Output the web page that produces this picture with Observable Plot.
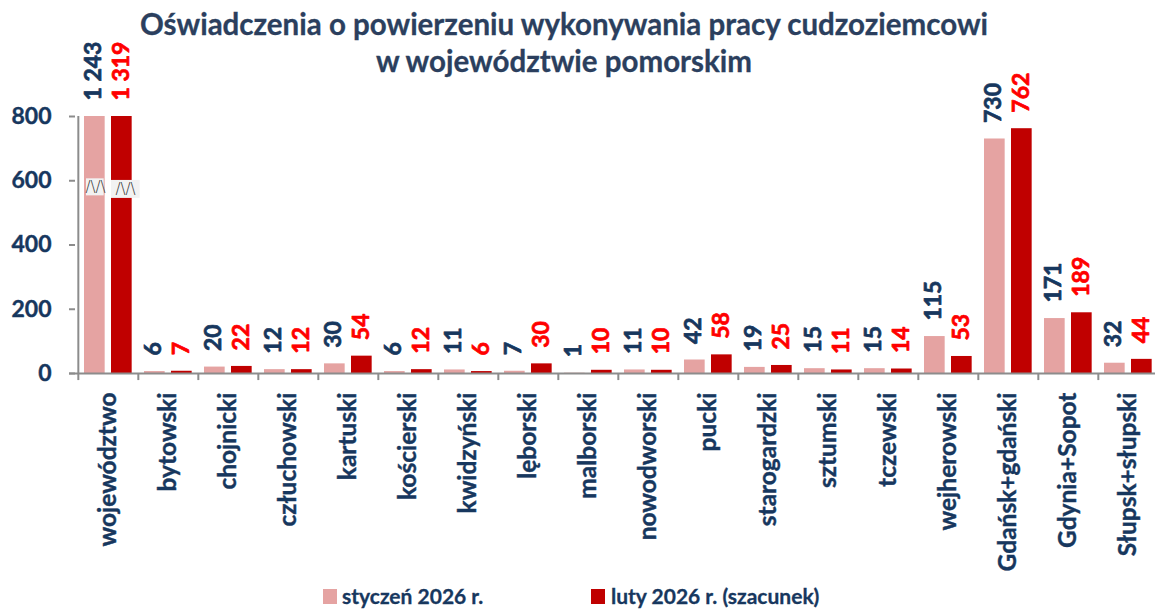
<!DOCTYPE html>
<html><head><meta charset="utf-8">
<script src="https://cdn.jsdelivr.net/npm/d3@7"></script>
<script src="https://cdn.jsdelivr.net/npm/@observablehq/plot@0.6"></script>
<style>
body{margin:0;background:#fff;font-family:Lato,"Open Sans",sans-serif;}
#wrap{position:relative;width:1155px;height:610px;overflow:hidden;}
#title{position:absolute;left:0;top:5px;width:1128px;text-align:center;color:#2B3F5E;font-weight:bold;font-size:29.5px;line-height:37px;z-index:2;-webkit-text-stroke:0.3px #2B3F5E;}
.leg{position:absolute;top:584px;height:24px;line-height:24px;display:flex;align-items:center;color:#17375E;font-weight:bold;font-size:21px;-webkit-text-stroke:0.3px #17375E;}
.sw{width:14px;height:15px;margin-right:5px;}
svg g[aria-label="y-axis tick label"] text{fill:#17375E;font-weight:bold;font-size:23px;stroke:#17375E;stroke-width:0.4px;}
svg g[aria-label="y-axis tick"]{stroke:#8C8C8C;stroke-width:2;}
</style></head>
<body>
<div id="wrap">
<div id="title">Oświadczenia o powierzeniu wykonywania pracy cudzoziemcowi<br>w województwie pomorskim</div>
<div id="chart"></div>
<div class="leg" style="left:323px"><div class="sw" style="background:#E5A3A2"></div>styczeń 2026 r.</div>
<div class="leg" style="left:591px"><div class="sw" style="background:#C00000;margin-right:6px"></div>luty 2026 r. (szacunek)</div>
</div>
<script>
const categories = ["województwo","bytowski","chojnicki","człuchowski","kartuski","kościerski","kwidzyński","lęborski","malborski","nowodworski","pucki","starogardzki","sztumski","tczewski","wejherowski","Gdańsk+gdański","Gdynia+Sopot","Słupsk+słupski"];
const jan = [1243,6,20,12,30,6,11,7,1,11,42,19,15,15,115,730,171,32];
const feb = [1319,7,22,12,54,12,6,30,10,10,58,25,11,14,53,762,189,44];
const yTicks = [0,200,400,600,800];
const seriesNames = ["styczeń 2026 r.","luty 2026 r. (szacunek)"];

const W = 1155, H = 610, x0 = 75, x1 = 1161, yZero = 373, yTop = 116;
const band = (x1 - x0) / categories.length;
const cap = 800;
const pink = "#E5A3A2", red = "#C00000", navy = "#17375E", labRed = "#FF0000", grey = "#8C8C8C";
const data = categories.map((c, i) => ({c, jan: jan[i], feb: feb[i]}));
const fmt = v => d3.format(",")(v).replace(/,/g, " ");
const font = "Lato, 'Open Sans', sans-serif";
const brokenCat = data.filter(d => d.jan > cap || d.feb > cap);

const chart = Plot.plot({
  width: W, height: H,
  marginTop: yTop, marginBottom: H - yZero, marginLeft: x0, marginRight: 0,
  style: {fontFamily: font, overflow: "visible", background: "transparent"},
  x: {domain: categories, range: [x0, x1], padding: 0, axis: null},
  y: {domain: [0, cap], ticks: yTicks, tickSize: 6, tickPadding: 18, label: null, tickFormat: d => d},
  marks: [
    Plot.barY(data, {x: "c", y: d => Math.min(d.jan, cap), fill: pink, insetLeft: 6, insetRight: band - 27}),
    Plot.barY(data, {x: "c", y: d => Math.min(d.feb, cap), fill: red, insetLeft: 33, insetRight: band - 54}),
    // axis break markers
    Plot.barY(brokenCat, {x: "c", y1: 553, y2: 606, fill: "#F2F2F2", insetLeft: 8, insetRight: band - 26}),
    Plot.barY(brokenCat, {x: "c", y1: 545, y2: 601, fill: "#F2F2F2", insetLeft: 33, insetRight: band - 62}),
    Plot.text(brokenCat, {x: "c", y: 580, text: () => "/\\/\\", dx: -13, fill: "#333", fontSize: 15, fontFamily: "DejaVu Sans", fontWeight: 300}),
    Plot.text(brokenCat, {x: "c", y: 573, text: () => "/\\/\\", dx: 17, fill: "#333", fontSize: 15, fontFamily: "DejaVu Sans", fontWeight: 300}),
    // axes lines
    Plot.ruleY([0], {stroke: grey, strokeWidth: 2, insetLeft: -6}),
    Plot.ruleX([categories[0]], {x: d => d, y1: 0, y2: cap, dx: -band / 2, stroke: grey, strokeWidth: 2}),
    Plot.ruleX(categories, {x: d => d, y1: 0, y2: -22, dx: -band / 2, stroke: grey, strokeWidth: 2}),
    // value labels
    Plot.text(data, {x: "c", y: d => Math.min(d.jan, cap), text: d => fmt(d.jan), rotate: -90, textAnchor: "start", lineAnchor: "middle", dx: -14.5, dy: -16, fill: navy, stroke: navy, strokeWidth: 0.7, fontSize: 23, fontWeight: "bold"}),
    Plot.text(data, {x: "c", y: d => Math.min(d.feb, cap), text: d => fmt(d.feb), rotate: -90, textAnchor: "start", lineAnchor: "middle", dx: 13.5, dy: -16, fill: labRed, stroke: labRed, strokeWidth: 0.7, fontSize: 23, fontWeight: "bold"}),
    // category labels
    Plot.text(categories, {x: d => d, y: 0, text: d => d, rotate: -90, textAnchor: "end", lineAnchor: "middle", dy: 19, fill: navy, stroke: navy, strokeWidth: 0.4, fontSize: 24.5, fontWeight: "bold"})
  ]
});
document.getElementById("chart").appendChild(chart);
</script>
</body></html>
